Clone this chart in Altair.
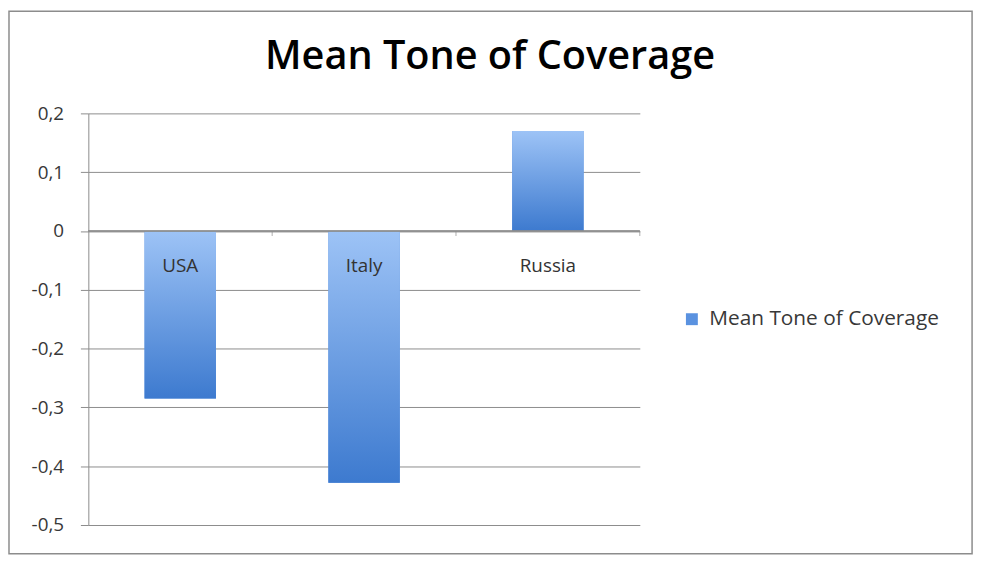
import altair as alt
import pandas as pd

countries = ["USA", "Italy", "Russia"]
tones = [-0.285, -0.428, 0.17]
series_name = "Mean Tone of Coverage"
chart_title = "Mean Tone of Coverage"
y_ticks = [-0.5, -0.4, -0.3, -0.2, -0.1, 0, 0.1, 0.2]

df = pd.DataFrame({"country": countries, "tone": tones, "series": [series_name] * len(countries)})

W, H = 556, 415
GRID = "#8C8C8C"
FONT = "Open Sans"

grad = alt.Gradient(
    gradient="linear",
    stops=[alt.GradientStop(color="#9DC3F6", offset=0),
           alt.GradientStop(color="#3D7ACF", offset=1)],
    x1=0, y1=0, x2=0, y2=1,
)

x_scale = alt.Scale(domain=countries, paddingInner=0, paddingOuter=0)
y_scale = alt.Scale(domain=[-0.5, 0.2], nice=False, zero=False)

x_enc = alt.X("country:N", sort=countries, scale=x_scale, axis=None)
y_enc = alt.Y(
    "tone:Q", scale=y_scale,
    axis=alt.Axis(title=None, values=y_ticks, grid=True, gridColor=GRID, gridWidth=1,
                  domainColor=GRID, tickColor=GRID, tickSize=8,
                  labelFont=FONT, labelFontSize=19, labelColor="#383838", labelPadding=17,
                  labelExpr="datum.value == 0 ? '0' : (datum.value < 0 ? '-' : '') + replace(format(abs(datum.value), '.1f'), '.', ',')"),
)

base = alt.Chart(df)

legend_bars = base.mark_bar(size=72).encode(
    x=x_enc, y=y_enc,
    color=alt.Color("series:N", scale=alt.Scale(range=["#5A92E0"]),
                    legend=alt.Legend(title=None, orient="none", legendX=598, legendY=197,
                                      symbolType="square", symbolSize=144, symbolStrokeWidth=0,
                                      labelFont=FONT, labelFontSize=21, labelColor="#383838",
                                      labelOffset=7, labelLimit=400, padding=0)),
)

bars = base.mark_bar(size=72, color=grad).encode(x=x_enc, y=y_enc)

zero_line = base.mark_rule(color=GRID, strokeWidth=1).encode(
    x=alt.value(0), x2=alt.value(W), y=alt.YDatum(0)
)

boundary_ticks = base.mark_tick(orient="vertical", size=5, thickness=1, color=GRID, yOffset=2.5).encode(
    x=alt.X("country:N", sort=countries, scale=x_scale, axis=None, bandPosition=1),
    y=alt.YDatum(0),
)

labels = base.mark_text(dy=35, fontSize=19, font=FONT, color="#333333").encode(
    x=x_enc,
    y=alt.YDatum(0),
    text="country:N",
)

title = alt.Chart(pd.DataFrame({"t": [chart_title]})).mark_text(
    fontSize=40, font=FONT, fontWeight=600, color="#000000", align="center", baseline="alphabetic"
).encode(x=alt.value(405), y=alt.value(-45), text="t:N")

border = alt.Chart(pd.DataFrame({"a": [0]})).mark_rect(
    fillOpacity=0, stroke="#8C8C8C", strokeWidth=1.5
).encode(x=alt.value(-80), x2=alt.value(891), y=alt.value(-103), y2=alt.value(444))

chart = alt.layer(legend_bars, bars, zero_line, boundary_ticks, labels, title, border).properties(
    width=W, height=H,
    autosize=alt.AutoSizeParams(type="none"),
    padding={"left": 81, "top": 104, "right": 344, "bottom": 30},
).configure_view(stroke=None)

chart.save("out.html", embed_options={"renderer": "svg", "actions": False})
